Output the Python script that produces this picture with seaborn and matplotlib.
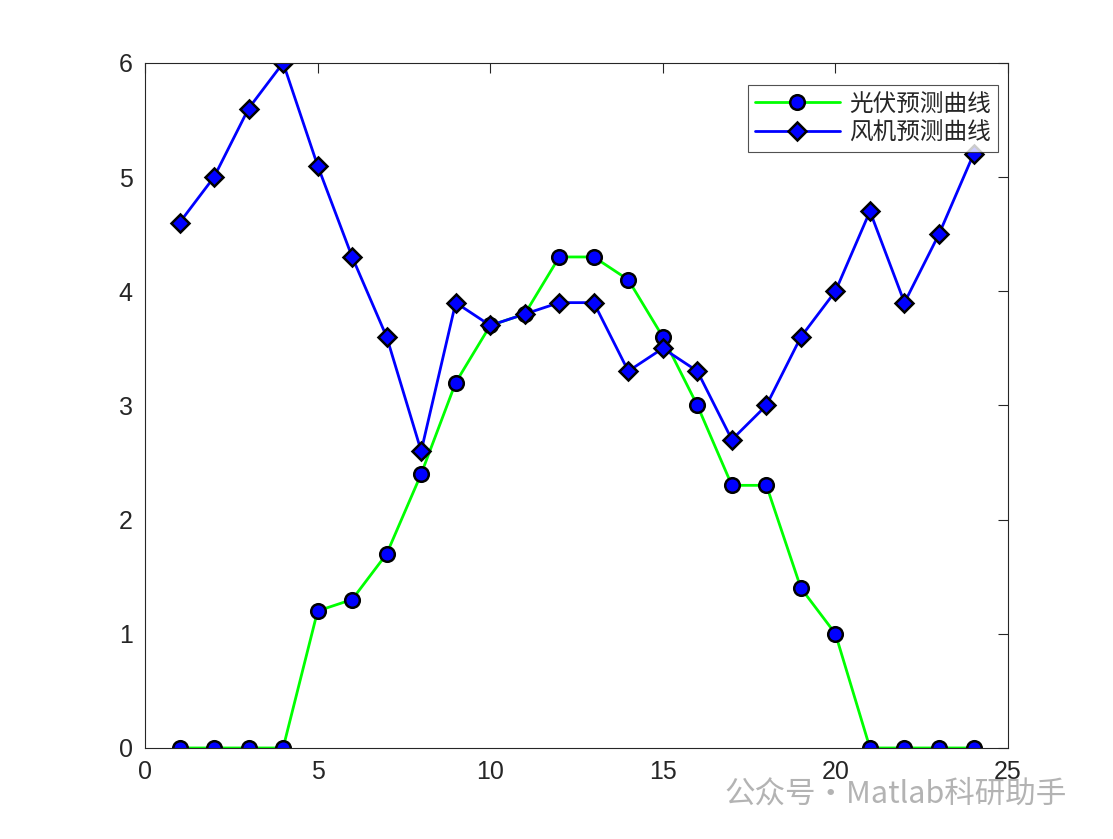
# PV / wind forecast curves, MATLAB-style figure redone with seaborn

import numpy as np
import pandas as pd
import matplotlib
matplotlib.use('Agg')
import matplotlib.pyplot as plt
import seaborn as sns

# 1. Data ----------------------------------------------------------------------

hours = list(range(1, 25))
pv_forecast = [0, 0, 0, 0, 1.2, 1.3, 1.7, 2.4, 3.2, 3.7, 3.8, 4.3,
               4.3, 4.1, 3.6, 3.0, 2.3, 2.3, 1.4, 1.0, 0, 0, 0, 0]
wind_forecast = [4.6, 5.0, 5.6, 6.0, 5.1, 4.3, 3.6, 2.6, 3.9, 3.7, 3.8, 3.9,
                 3.9, 3.3, 3.5, 3.3, 2.7, 3.0, 3.6, 4.0, 4.7, 3.9, 4.5, 5.2]
series_names = ['光伏预测曲线', '风机预测曲线']
x_ticks = [0, 5, 10, 15, 20, 25]
y_ticks = [0, 1, 2, 3, 4, 5, 6]

df = pd.DataFrame({'hour': hours + hours,
                   'value': pv_forecast + wind_forecast,
                   'series': [series_names[0]] * 24 + [series_names[1]] * 24})

# 2. Plot ----------------------------------------------------------------------

sns.set_style('white')
plt.rcParams['font.family'] = ['Liberation Sans', 'Noto Sans CJK SC']

fig = plt.figure(figsize=(11.13, 8.39), dpi=100)
ax = fig.add_axes([0.1303, 0.1085, 0.7754, 0.8166])

sns.lineplot(data=df, x='hour', y='value', hue='series', style='series',
             palette=['#00ff00', '#0000ff'], markers=['o', 'D'], dashes=False,
             markersize=10.5, markerfacecolor='#0000ff', markeredgecolor='black',
             markeredgewidth=1.8, linewidth=2, ax=ax)
ax.lines[1].set_markersize(9.5)

ax.set_xlim(0, 25)
ax.set_ylim(0, 6)
ax.set_xticks(x_ticks)
ax.set_yticks(y_ticks)
ax.set_xlabel('')
ax.set_ylabel('')
ax.tick_params(direction='in', length=7, width=0.8, top=True, right=True,
               labelsize=18, colors='#262626', pad=9)
for s in ax.spines.values():
    s.set_color('#262626')
    s.set_linewidth(0.8)

handles, labels = ax.get_legend_handles_labels()
handles[1].set_markersize(9.5)
leg = ax.legend(handles, labels, loc='upper right', bbox_to_anchor=(0.9885, 0.967),
                prop={'family': 'Noto Sans CJK SC', 'size': 17}, frameon=True,
                fancybox=False, edgecolor='#262626', handlelength=3.6,
                borderpad=0.3, labelspacing=0.25, handletextpad=0.4,
                borderaxespad=0)
leg.get_frame().set_linewidth(0.8)

# watermark
fig.text(0.651, 0.0536, '公众号·Matlab科研助手', color='#b3b3b3', fontsize=22,
         family=['Noto Sans CJK SC', 'DejaVu Sans'], ha='left', va='center')

fig.savefig('out.png', dpi=100)
